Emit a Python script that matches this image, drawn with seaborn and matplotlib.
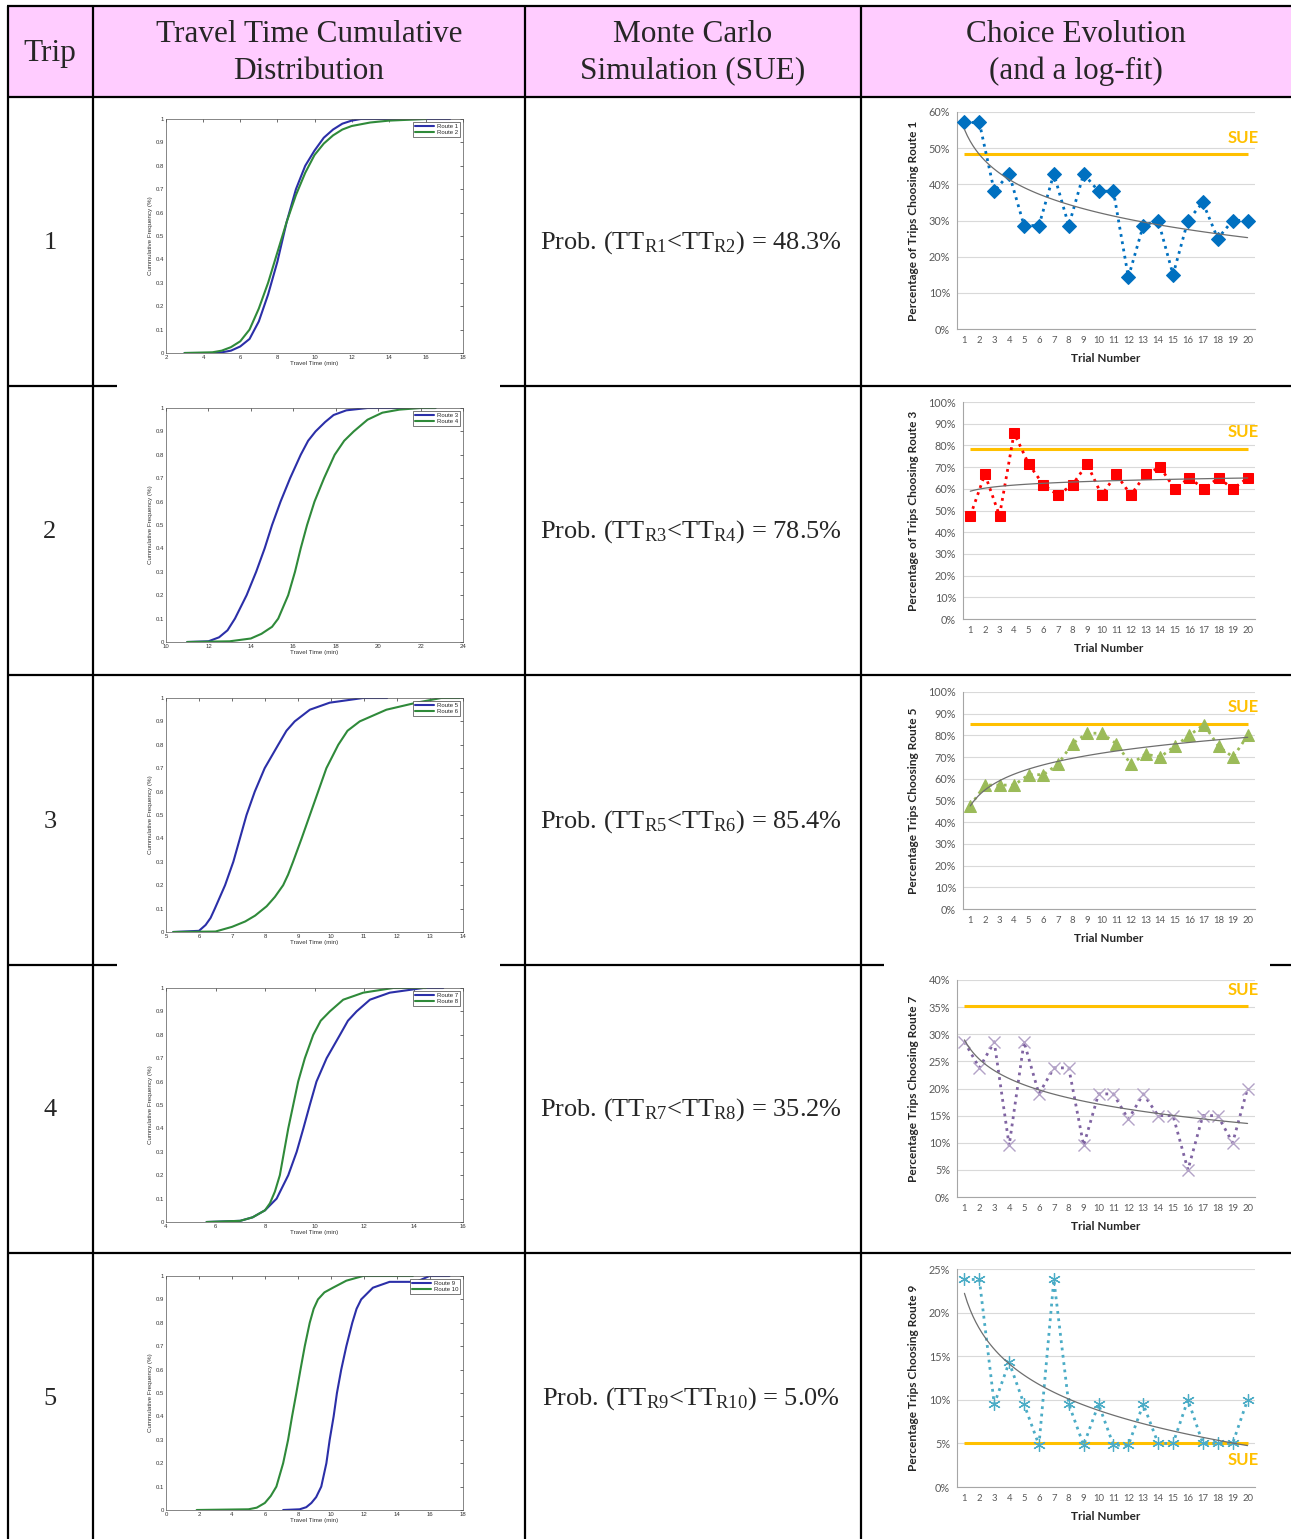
import matplotlib
matplotlib.use("Agg")
import matplotlib.pyplot as plt
from matplotlib.lines import Line2D
from matplotlib.patches import Rectangle
import seaborn as sns
import numpy as np
import pandas as pd

# ---- data ----
trip_labels = ["1", "2", "3", "4", "5"]
sue_probs = [48.3, 78.5, 85.4, 35.2, 5.0]
route_pairs = [(1, 2), (3, 4), (5, 6), (7, 8), (9, 10)]
headers = ["Trip", "Travel Time Cumulative\nDistribution",
           "Monte Carlo\nSimulation (SUE)", "Choice Evolution\n(and a log-fit)"]

# travel time CDFs (time in min, cumulative share)
r1_t = [3.0, 4.8, 5.5, 6.0, 6.5, 7.0, 7.5, 8.0, 8.5, 9.0, 9.5, 10.0, 10.5, 11.0, 11.5, 12.0, 12.5, 17.3]
r1_p = [0, 0, 0.01, 0.028, 0.06, 0.135, 0.25, 0.39, 0.56, 0.70, 0.80, 0.865, 0.92, 0.955, 0.98, 0.993, 1.0, 1.0]
r2_t = [3.0, 4.5, 5.0, 5.5, 6.0, 6.5, 7.0, 7.5, 8.0, 8.5, 9.0, 9.5, 10.0, 10.5, 11.0, 11.5, 12.0, 13.0, 14.0, 16.0]
r2_p = [0, 0.003, 0.01, 0.025, 0.05, 0.1, 0.19, 0.3, 0.43, 0.56, 0.675, 0.77, 0.846, 0.895, 0.93, 0.955, 0.97, 0.985, 0.993, 1.0]
r3_t = [11.0, 12.0, 12.5, 12.9, 13.25, 13.8, 14.25, 14.65, 15.0, 15.4, 15.85, 16.35, 16.7, 17.05, 17.5, 17.9, 18.5, 19.5, 22.7]
r3_p = [0, 0.003, 0.02, 0.05, 0.1, 0.2, 0.3, 0.4, 0.5, 0.6, 0.7, 0.8, 0.86, 0.9, 0.94, 0.97, 0.99, 1.0, 1.0]
r4_t = [11.0, 13.0, 14.0, 14.5, 15.0, 15.29, 15.76, 16.08, 16.35, 16.65, 17.0, 17.45, 17.95, 18.4, 18.85, 19.5, 20.2, 21.0, 22.0, 22.7]
r4_p = [0, 0.003, 0.015, 0.035, 0.065, 0.1, 0.2, 0.3, 0.4, 0.5, 0.6, 0.7, 0.8, 0.86, 0.9, 0.95, 0.98, 0.993, 1.0, 1.0]
r5_t = [5.22, 6.0, 6.2, 6.35, 6.48, 6.79, 7.04, 7.24, 7.44, 7.69, 7.99, 8.4, 8.65, 8.9, 9.36, 9.96, 10.97, 11.7]
r5_p = [0, 0.005, 0.03, 0.06, 0.1, 0.2, 0.3, 0.4, 0.5, 0.6, 0.7, 0.8, 0.86, 0.9, 0.95, 0.98, 1.0, 1.0]
r6_t = [5.22, 6.5, 7.0, 7.4, 7.7, 8.05, 8.3, 8.55, 8.7, 8.85, 9.11, 9.36, 9.61, 9.86, 10.22, 10.5, 10.87, 11.68, 12.59, 13.34, 13.9]
r6_p = [0, 0.002, 0.022, 0.045, 0.07, 0.11, 0.15, 0.2, 0.245, 0.3, 0.4, 0.5, 0.6, 0.7, 0.8, 0.86, 0.9, 0.95, 0.98, 1.0, 1.0]
r7_t = [5.64, 7.0, 7.5, 8.0, 8.47, 8.94, 9.28, 9.55, 9.81, 10.08, 10.49, 11.03, 11.35, 11.7, 12.24, 13.04, 14.39, 15.2]
r7_p = [0, 0.005, 0.02, 0.05, 0.1, 0.2, 0.3, 0.4, 0.5, 0.6, 0.7, 0.8, 0.86, 0.9, 0.95, 0.98, 1.0, 1.0]
r8_t = [5.64, 7.0, 7.5, 8.0, 8.2, 8.4, 8.6, 8.77, 8.94, 9.14, 9.34, 9.61, 9.95, 10.25, 10.62, 11.16, 11.97, 13.18, 14.5]
r8_p = [0, 0.005, 0.02, 0.05, 0.08, 0.13, 0.2, 0.3, 0.4, 0.5, 0.6, 0.7, 0.8, 0.86, 0.9, 0.95, 0.98, 1.0, 1.0]
r9_t = [7.1, 8.1, 8.5, 8.81, 9.1, 9.41, 9.72, 9.92, 10.16, 10.36, 10.62, 10.93, 11.29, 11.55, 11.83, 12.54, 13.55, 15.16, 15.97, 17.18]
r9_p = [0, 0.003, 0.012, 0.03, 0.055, 0.1, 0.2, 0.3, 0.4, 0.5, 0.6, 0.7, 0.8, 0.86, 0.9, 0.95, 0.975, 0.975, 1.0, 1.0]
r10_t = [1.86, 5.0, 5.5, 5.99, 6.35, 6.69, 7.1, 7.4, 7.64, 7.9, 8.15, 8.41, 8.71, 8.95, 9.21, 9.6, 10.12, 10.93, 11.94, 14.96]
r10_p = [0, 0.003, 0.01, 0.03, 0.06, 0.1, 0.2, 0.3, 0.4, 0.5, 0.6, 0.7, 0.8, 0.86, 0.9, 0.93, 0.95, 0.98, 1.0, 1.0]

cdf_xlims = [(2, 18, 2), (10, 24, 2), (5, 14, 1), (4, 16, 2), (0, 18, 2)]

# choice evolution (% of trips choosing the first route)
trials = list(range(1, 21))
choice_r1 = [57.1, 57.1, 38.1, 42.9, 28.6, 28.6, 42.9, 28.6, 42.9, 38.1,
             38.1, 14.3, 28.6, 30, 15, 30, 35, 25, 30, 30]
choice_r3 = [47.6, 66.7, 47.6, 85.7, 71.4, 61.9, 57.1, 61.9, 71.4, 57.1,
             66.7, 57.1, 66.7, 70, 60, 65, 60, 65, 60, 65]
choice_r5 = [47.6, 57.1, 57.1, 57.1, 61.9, 61.9, 66.7, 76.2, 81.0, 81.0,
             76.2, 66.7, 71.4, 70, 75, 80, 85, 75, 70, 80]
choice_r7 = [28.6, 23.8, 28.6, 9.5, 28.6, 19.0, 23.8, 23.8, 9.5, 19.0,
             19.0, 14.3, 19.0, 15, 15, 5, 15, 15, 10, 20]
choice_r9 = [23.8, 23.8, 9.5, 14.3, 9.5, 4.8, 23.8, 9.5, 4.8, 9.5,
             4.8, 4.8, 9.5, 5, 5, 10, 5, 5, 5, 10]
choice_ylabels = ["Percentage of Trips Choosing Route 1",
                  "Percentage of Trips Choosing Route 3",
                  "Percentage Trips Choosing Route 5",
                  "Percentage Trips Choosing Route 7",
                  "Percentage Trips Choosing Route 9"]

# ---- figure ----
sns.set_style("white")
plt.rcParams["mathtext.fontset"] = "custom"
plt.rcParams["mathtext.rm"] = "Liberation Serif"
W, H = 1291, 1539
fig = plt.figure(figsize=(W / 100, H / 100), dpi=100)


def fx(x):
    return x / W


def fy(y):
    return 1 - y / H


def add_ax(l, t, r, b):
    return fig.add_axes([fx(l), fy(b), (r - l) / W, (b - t) / H])


def hline(y, x0, x1):
    fig.add_artist(Line2D([fx(x0), fx(x1)], [fy(y), fy(y)], transform=fig.transFigure,
                          color="black", lw=1.6, solid_capstyle="butt"))


def vline(x, y0, y1):
    fig.add_artist(Line2D([fx(x), fx(x)], [fy(y0), fy(y1)], transform=fig.transFigure,
                          color="black", lw=1.6, solid_capstyle="butt"))


# table frame
fig.add_artist(Rectangle((fx(8), fy(97)), (W - 8) / W, 91 / H, transform=fig.transFigure,
                         facecolor="#FFCCFF", edgecolor="none", zorder=0))
hline(6, 7, W)
hline(97, 7, W)
hline(386, 7, 117); hline(386, 500, W)
hline(675, 7, W)
hline(965, 7, 117); hline(965, 500, 884); hline(965, 1270, W)
hline(1253, 7, W)
for x in [8, 93, 525, 861]:
    vline(x, 6, H)

serif = ["Liberation Serif", "DejaVu Serif"]
col_cx = [50, 309, 693, 1076]
for cx, txt in zip(col_cx, headers):
    fig.text(fx(cx), fy(53), txt, ha="center", va="center", fontsize=22.5,
             family=serif, linespacing=1.32)

row_cy = [243, 532, 822, 1110, 1399]
for i, (lab, p, (a, b)) in enumerate(zip(trip_labels, sue_probs, route_pairs)):
    fig.text(fx(50), fy(row_cy[i]), lab, ha="center", va="center", fontsize=19, family=serif)
    s = (r"Prob. ($\mathregular{TT_{R%d}}$<$\mathregular{TT_{R%d}}$) = %.1f%%" % (a, b, p))
    fig.text(fx(691), fy(row_cy[i]), s, ha="center", va="center", fontsize=19, family=serif)

# ---- CDF panels ----
cdf_sets = [(r1_t, r1_p, r2_t, r2_p), (r3_t, r3_p, r4_t, r4_p), (r5_t, r5_p, r6_t, r6_p),
            (r7_t, r7_p, r8_t, r8_p), (r9_t, r9_p, r10_t, r10_p)]
cdf_tops = [119, 408, 698, 988, 1276]
sans = ["Liberation Sans", "DejaVu Sans"]
for i, (ta, pa, tb, pb) in enumerate(cdf_sets):
    ax = add_ax(166, cdf_tops[i], 463, cdf_tops[i] + 234)
    a, b = route_pairs[i]
    sns.lineplot(x=ta, y=pa, ax=ax, color="#2B2FA8", lw=1.5, sort=False,
                 estimator=None, label=f"Route {a}", solid_joinstyle="round")
    sns.lineplot(x=tb, y=pb, ax=ax, color="#2F8A3A", lw=1.5, sort=False,
                 estimator=None, label=f"Route {b}", solid_joinstyle="round")
    x0, x1, st = cdf_xlims[i]
    ax.set_xlim(x0, x1)
    ax.set_ylim(0, 1)
    xt = np.arange(x0, x1 + 0.01, st)
    ax.set_xticks(xt)
    ax.set_xticklabels([f"{v:g}" for v in xt], family=sans)
    yt = np.arange(0, 1.01, 0.1)
    ax.set_yticks(yt)
    ax.set_yticklabels([f"{v:g}" for v in np.round(yt, 1)], family=sans)
    ax.tick_params(direction="in", length=2.5, width=0.5, labelsize=4.3, top=True,
                   right=True, pad=1.5, colors="#333333")
    for sp in ax.spines.values():
        sp.set_linewidth(0.5)
        sp.set_color("#555555")
    ax.set_xlabel("Travel Time (min)", fontsize=4.5, family=sans, labelpad=1, color="#333333")
    ax.set_ylabel("Cummulative Frequency (%)", fontsize=4.5, family=sans, labelpad=2,
                  color="#333333")
    leg = ax.legend(loc="upper right", fontsize=4.3, frameon=True, fancybox=False,
                    edgecolor="#444444", borderaxespad=0.5, handlelength=3.2,
                    labelspacing=0.1, borderpad=0.3, framealpha=1, handletextpad=0.5)
    leg.get_frame().set_linewidth(0.5)
    for t in leg.get_texts():
        t.set_family(sans)

# ---- choice evolution panels ----
calibri = ["Lato", "DejaVu Sans"]
choice_vals = [choice_r1, choice_r3, choice_r5, choice_r7, choice_r9]
choice_boxes = [(957, 112, 1255, 329), (963, 402, 1255, 619), (963, 692, 1255, 909),
                (957, 980, 1255, 1197), (957, 1269, 1255, 1487)]
choice_ymax = [(60, 10), (100, 10), (100, 10), (40, 5), (25, 5)]
styles = [
    dict(color="#0070C0", marker="D", markersize=7, mec="#0070C0"),
    dict(color="#FF0000", marker="s", markersize=7.5, mec="#FF0000"),
    dict(color="#9BBB59", marker="^", markersize=8, mec="#9BBB59"),
    dict(color="#8064A2", marker="x", markersize=8, mec="#B3A2C7", mew=1.0),
    dict(color="#4BACC6", marker=(6, 2, 0), markersize=9, mec="#4BACC6", mew=0.9),
]
for i, vals in enumerate(choice_vals):
    ax = add_ax(*choice_boxes[i])
    df = pd.DataFrame({"trial": trials, "pct": vals})
    st = dict(styles[i])
    col = st.pop("color")
    sns.lineplot(data=df, x="trial", y="pct", ax=ax, color=col, linestyle=":", lw=2,
                 zorder=3, **st)
    ax.hlines(sue_probs[i], trials[0], trials[-1], color="#FFC000", lw=2.2, zorder=2)
    sns.regplot(data=df, x="trial", y="pct", ax=ax, logx=True, scatter=False, ci=None,
                truncate=True, line_kws=dict(color="#6E6E6E", lw=0.9, zorder=4))
    ymax, ystep = choice_ymax[i]
    ax.set_xlim(0.5, 20.5)
    ax.set_ylim(0, ymax)
    yt = np.arange(0, ymax + 0.1, ystep)
    ax.set_yticks(yt)
    ax.set_yticklabels([f"{v:.0f}%" for v in yt], family=calibri, fontsize=7.8, color="#595959")
    ax.set_xticks(trials)
    ax.set_xticklabels([str(t) for t in trials], family=calibri, fontsize=6.8, color="#595959")
    ax.set_xticks(np.arange(0.5, 20.6, 1), minor=True)
    ax.tick_params(axis="x", which="major", length=0, pad=5)
    ax.tick_params(axis="x", which="minor", length=4, width=0.6, color="#A6A6A6", direction="out")
    ax.tick_params(axis="y", length=3, width=0.6, color="#A6A6A6", direction="out", pad=2)
    ax.yaxis.grid(True, color="#D9D9D9", lw=0.8)
    ax.set_axisbelow(True)
    sns.despine(ax=ax, top=True, right=True)
    for sp in ["left", "bottom"]:
        ax.spines[sp].set_color("#A6A6A6")
        ax.spines[sp].set_linewidth(0.8)
    ax.set_xlabel("Trial Number", family=calibri, fontsize=8.5, fontweight="bold",
                  color="#262626", labelpad=6)
    ax.set_ylabel(choice_ylabels[i], family=calibri, fontsize=8.6, fontweight="bold",
                  color="#262626", labelpad=7)
    dy = -18 if i == 4 else 6
    ax.annotate("SUE", xy=(20.75, sue_probs[i]), xytext=(0, dy), textcoords="offset points",
                ha="right", va="bottom", family=calibri, fontsize=12, fontweight="bold",
                color="#FFC000", annotation_clip=False)

fig.savefig("out.png", dpi=100)
